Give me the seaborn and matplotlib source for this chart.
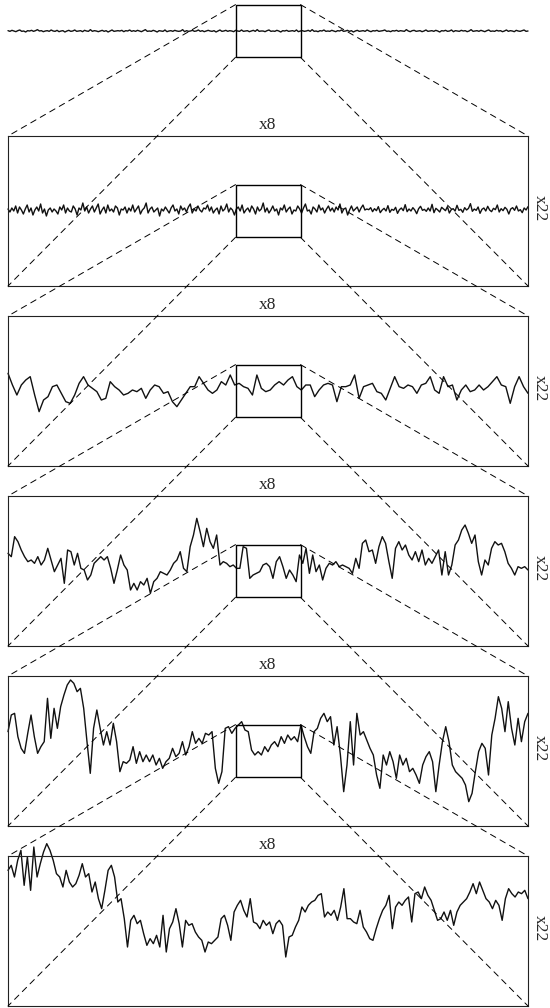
import matplotlib
matplotlib.use("Agg")
import matplotlib.pyplot as plt
import numpy as np
import seaborn as sns
from matplotlib.patches import Rectangle, ConnectionPatch

# Values, one list per panel (top to bottom).
# Units: 3 units = 1 pixel of the reference, 0 = middle of the panel.
level1 = [1, -1, 2, 0, -2, 1, 3, -1, 0, -3, 1, 0, 2, -1, 1, 4, 0, 1, -2, 0, 1, -1, 3, 0, -1, 2, -2, 0, 1, -3,
          0, 2, -1, 0, 3, -1, 0, 1, -2, 2, 0, -1, 4, -1, 1, 0, -2, 0, 2, -1, 1, -3, 0, 3, -1, 0, 1, 0, 2, -2,
          1, 0, 3, -1, 1, -1, 2, 0, -2, 1, 4, -1, 0, -1, 2, 0, -3, 1, 0, -1, 3, -2, 0, 1, -1, 2, 0, -1, 0, 4,
          -2, 1, -1, 0, 2, -1, 0, 3, -1, 1, -2, 0, 2, 0, -1, 1, -3, 0, 3, -1, 0, 2, -1, 1, 0, -2, 2, 0, -1, 3,
          -1, 0, 1, -2, 0, 2, -1, 4, -1, 0, 0, -2, 1, 3, -1, 0, -1, 2, 0, -3, 1, 0, 2, -1, 0, 1, -1, 3, -2, 0,
          1, -1, 0, 2, -1, 4, -1, 0, -2, 1, 0, 3, -1, 0, -1, 2, 0, -2, 1, 0, 3, -1, 0, 2, -1, 1, -3, 0, 2, -1,
          0, 1, -1, 3, 0, -2, 1, 0, 2, -1, 0, 1, 3, -1, 0, -2, 1, 0, 2, -1, 1, 0, -1, 4, 0, -2, 1, 2, -1, 0,
          1, -2, 0, 3, -1, 0, 1, -1, 2, 0, -3, 1, 0, 2, -1, 0, 3, -2, 1, 0, -1, 2, 0, 1, -2, 0, 4, -1, 0, 1,
          -1, 2, 0, -2, 1, 3, -1, 0, -1, 2, 0, 1, -2, 0, 3, -1, 1, 0, -2, 2, 0, -1, 1, 3, -1, 0]

level2 = [6, -3, 9, 0, 15, -6, 12, 3, -9, 6, 18, -3, 9, -12, 3, 12, 0, 21, -6, 6, -15, 3, 9, -3, 6, 0, -9, 12,
          3, 18, -6, 9, 0, -3, 15, 6, -12, 9, 3, 24, 0, 12, -6, 6, 15, -3, 9, 21, -9, 3, 12, -6, 18, 0, 6, -3,
          15, 9, -12, 6, 3, 12, -6, 9, 0, 18, -3, 6, 15, -9, 3, 9, 24, -6, 6, 12, -3, 3, 9, -15, 6, 0, 12, 3,
          -6, 9, 18, 0, 6, -9, 15, 3, 9, -3, 12, 21, -6, 6, 0, 15, 3, -3, 9, 6, 18, 0, 12, -6, 3, 9, -9, 15,
          0, 6, 21, -3, 9, 3, -12, 6, 12, 0, 18, -6, 3, 9, -3, 15, 6, -9, 12, 0, 6, 24, -3, 9, -6, 3, 15, 0,
          6, -12, 9, 3, 18, -3, 6, 12, -9, 3, 0, 15, 6, -6, 9, 21, 0, 3, -9, 12, 6, -3, 18, 3, 9, -6, 6, 15,
          0, 9, -3, 12, 3, 21, -6, 6, 9, -12, 3, 15, 0, 6, 12, -3, 9, 18, 3, 6,
          4, 10, -2, 7, 1, 13, -5, 3, 8, 0, 16, -4, 5, 2, 11, -7, 4, 9, 1, 19, -2, 6, 0, 10, 3, -8, 7, 14,
          2, 5, -1, 9, 0, 20, -5, 8, 3, -3, 11, 6, 1, 13, -6, 4, 7, 0, 17, 2, 5, -4, 10, 3, 8, 22, -1, 6,
          2, 12, -7, 5, 9, 0, 14, 3, -2, 8, 4, 18, -3, 7, 1, 11, 5, -9, 6, 10, 2, 15, 0, 4, -5, 9, 3, 13]

level3 = [53, 18, -12, 18, 33, 43, -12, -62, -27, -17, 13, 18, -7, -32, -37, -12, 23, 43, 18, 8, -2, -27,
          -22, 28, 13, 3, -12, -7, 3, -2, 8, -22, 3, 18, 13, -7, -2, -32, -47, -27, -7, 13, 13, 43, 23, 3, -7,
          3, 28, 18, 48, 18, 23, 13, 8, -12, 48, 8, -2, 3, 18,
          28, 18, 33, 43, 13, 3, 18, 18, -17, 3, 18, 23, 18, -32, 13, 13, 18, 48, -22, 13, 18, 23, -2, -7,
          -27, 8, 43, 13, 8, 18, 13, -7, 18, 23, 43, 3, -7, 43, 13, 18, -27, 3, 18, -2, 3, 18, 3, 13, 28, 43,
          18, 13, -37, 13, 43, 13, -7]

level4 = [53, 43, 103, 88, 63, 43, 28, 33, 23, 43, 18, 33, 68, 33, -2, 18, 38, -37, 63, 58, 18, 53, 8, 3,
          -27, -12, 23, 33, 43, 33, 43, 8, -37, 3, 48, 18, 3, -57, -37, -57, -32, -42, -22, -67, -32, -22, -2,
          -7, -12, 3, 23, 33, 58, 8, -2, 73, 108, 158, 118, 73, 128, 88, 68, 108, 18, 28, 23, 13, 18, 8, 8, 73,
          68, -22, -12, -7, -2, 18, 23, 13, -22, 28, 43,
          13, -22, 3, -12, -32, 48, 23, 68, -7, 48, -2, 18, -27, 8, 23, 18, 28, 13, 18, 13, 8, -7, 38, 8, 83,
          93, 58, 63, 23, 73, 103, 83, 28, -22, 68, 88, 63, 78, 48, 33, 58, 28, 63, 18, 38, 23, 43, 63, -12,
          58, -12, 18, 78, 93, 123, 138, 113, 83, 108, 28, -12, 33, 18, 68, 88, 78, 83, 58, 23, 8, -12, 13, 8,
          13, 3]

level5 = [58, 108, 113, 43, 8, -7, 53, 108, 43, -7, 13, 28, 158, 38, 128, 68, 133, 168, 198, 213, 203, 178,
          188, 128, 28, -67, 68, 123, 68, 18, 58, 18, 83, 28, -62, -32, -37, -27, 13, -37, -2, -32, -12, -32,
          -12, -42, -22, -52, -32, -22, 8, -17, -7, 28, -12, 13, 58, 23, 38, 23, 53, 48, 58, -52, -97, -62, 68,
          73, 53, 68, 78, 88, 63, 58, 3, -12, -2, -12, 13, -2, 18, 28, 13,
          43, 23, 48, 33, 43, 28, 78, 43, 13, -7, 58, 68, 98, 113, 88, 103, 18, 73, -12, -122, -42, 88, -42,
          113, 48, 58, 33, 8, -12, -72, -112, -12, -42, -2, -32, -82, -12, -42, -22, -62, -52, -72, -97, -42,
          -17, -2, -32, -122, -42, 28, 73, 28, -42, -62, -72, -82, -102, -152, -127, -62, -2, 23, 8, -72, 48,
          98, 163, 128, 58, 148, 68, 18, 98, 28, 88, 113]

level6 = [182, 197, 162, 212, 242, 137, 222, 122, 252, 162, 202, 237, 262, 242, 212, 172, 162, 132, 182, 147,
          132, 142, 167, 202, 162, 172, 117, 147, 97, 67, 122, 182, 197, 162, 87, 97, 37, -48, 32, 47, 22, 32,
          -8, -43, -23, -38, -13, -48, 47, -63, 7, 27, 67, 22, -48, 32, 17, 22, -3, -18, -28, -63, -33, -38,
          -28, -18, 37, 47, 17, -28, 57, 77, 92, 62, 42, 97, 27, 22, 7, 32, 17, 27, -8, 22, 32,
          17, -78, -18, -13, 12, 32, 72, 57, 77, 87, 92, 107, 112, 42, 57, 47, 62, 32, 72, 127, 37, 37, 27, 22,
          62, 12, -3, -23, -28, 7, 37, 62, 77, 107, 7, 72, 87, 77, 92, 102, 27, 112, 117, 97, 132, 107, 92, 62,
          32, 37, 57, 32, 62, 17, 57, 77, 87, 97, 117, 142, 112, 147, 122, 97, 87, 67, 92, 77, 32, 97, 127, 112,
          102, 117, 112, 122, 97]

levels = [level1, level2, level3, level4, level5, level6]
zoom_x = "x8"
zoom_y = "x22"

sns.set_style("white")
plt.rcParams["font.family"] = ["Liberation Serif", "DejaVu Serif"]
plt.rcParams["lines.scale_dashes"] = False

W, H = 550, 1008
fig = plt.figure(figsize=(W / 100, H / 100), dpi=100)

# panel frames in pixels: left 8, width 520, height 150, one every 180 px
tops = [-44, 136, 316, 496, 676, 856]
axes = []
for t in tops:
    ax = fig.add_axes([8 / W, 1 - (t + 150) / H, 520 / W, 150 / H])
    axes.append(ax)

for i, (ax, vals) in enumerate(zip(axes, levels)):
    x = np.arange(len(vals))
    sns.lineplot(x=x, y=vals, ax=ax, color="#111111", lw=1.0, clip_on=False)
    ax.set_xlim(0, len(vals) - 1)
    ax.set_ylim(-225, 225)
    ax.set_xticks([])
    ax.set_yticks([])
    ax.set_xlabel("")
    ax.set_ylabel("")
    for s in ax.spines.values():
        s.set_linewidth(0.8)
        s.set_color("#222222")
    if i == 0:
        ax.axis("off")
    else:
        ax.text(0.5, 1 + 3 / 150, zoom_x, transform=ax.transAxes, ha="center", va="bottom", fontsize=12.5)
        ax.text(1 + 12 / 520, 0.52, zoom_y, transform=ax.transAxes, ha="center", va="center",
                rotation=270, fontsize=12.5)

# box around the middle eighth, and dashed lines to the next panel
bh = 52.7 / 150
x0, x1 = 7 / 16, 9 / 16
y0, y1 = 0.5 - bh / 2, 0.5 + bh / 2
for i in range(5):
    a, b = axes[i], axes[i + 1]
    a.add_patch(Rectangle((x0, y0), x1 - x0, y1 - y0, transform=a.transAxes, fill=False,
                          lw=1.0, ec="black", zorder=5, clip_on=False))
    for pa, pb in [((x0, y1), (0, 1)), ((x0, y0), (0, 0)), ((x1, y1), (1, 1)), ((x1, y0), (1, 0))]:
        con = ConnectionPatch(xyA=pa, coordsA=a.transAxes, xyB=pb, coordsB=b.transAxes,
                              ls=(0, (4.3, 3.6)), lw=0.7, color="black")
        fig.add_artist(con)

fig.savefig("out.png", dpi=100, facecolor="white")
